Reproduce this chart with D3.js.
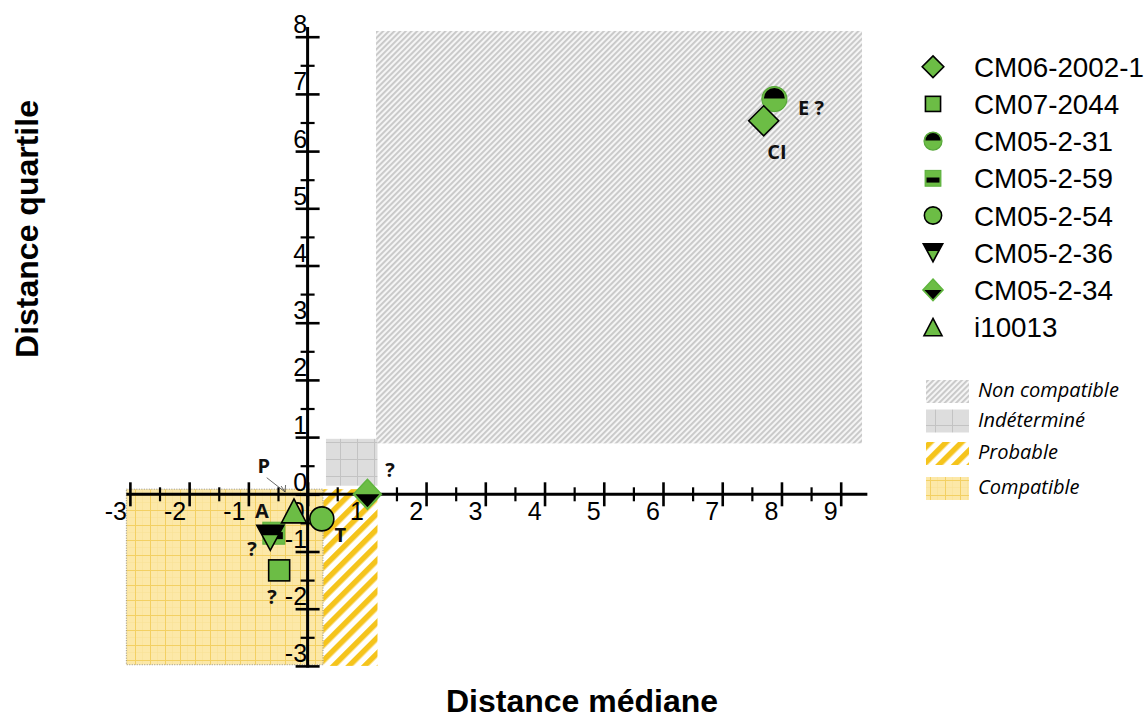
<!DOCTYPE html>
<html><head><meta charset="utf-8">
<script src="https://cdn.jsdelivr.net/npm/d3@7"></script>
<style>
html,body{margin:0;padding:0;background:#fff;}
svg{display:block;}
</style></head>
<body>
<svg id="chart" width="1147" height="718"></svg>
<script>
// ---------- data ----------
const seriesNames = ["CM06-2002-1","CM07-2044","CM05-2-31","CM05-2-59","CM05-2-54","CM05-2-36","CM05-2-34","i10013"];
const seriesX = [7.70, -0.48, 7.88, -0.57, 0.24, -0.63, 1.01, -0.23];
const seriesY = [6.53, -1.33, 6.91, -0.68, -0.43, -0.76, 0.00, -0.29];
const seriesShape = ["diamond","square","halfCircle","bandSquare","circle","triDown","halfDiamond","triUp"];
const drawOrder = [2,0,1,3,5,4,7,6];

const xMajorTicks = [-3,-2,-1,0,1,2,3,4,5,6,7,8,9];
const xMinorTicks = [-2.5,-1.5,-0.5,0.5,1.5,2.5,3.5,4.5,5.5,6.5,7.5,8.5];
const yMajorTicks = [-3,-2,-1,0,1,2,3,4,5,6,7,8];
const yMinorTicks = [-2.5,-1.5,-0.5,0.5,1.5,2.5,3.5,4.5,5.5,6.5,7.5];

const zoneNames = ["Non compatible","Indéterminé","Probable","Compatible"];
const zoneX0 = [1.155, 0.31, 0.265, -3.06];
const zoneX1 = [9.36, 1.18, 1.18, 0.26];
const zoneY0 = [0.89, 0.15, -3.0, -2.98];
const zoneY1 = [8.10, 0.97, 0.09, 0.09];
const zonePattern = ["pGrayHatch","pGrayGrid","pYellowHatch","pYellowGrid"];

const noteText = ["CI","E ?","?","T","A","?","?","P"];
const noteX = [7.925, 8.50, 1.39, 0.55, -0.77, -0.94, -0.60, -0.74];
const noteY = [6.00, 6.76, 0.43, -0.70, -0.29, -0.94, -1.79, 0.51];

// ---------- setup ----------
const svg = d3.select("#chart");
const x = d3.scaleLinear().domain([0, 9]).range([307.6, 840.7]);
const y = d3.scaleLinear().domain([0, 8]).range([494.3, 36.7]);
const GREEN = "#6cbd45";

const defs = svg.append("defs");
// gray hatch
const p1 = defs.append("pattern").attr("id","pGrayHatch").attr("patternUnits","userSpaceOnUse")
  .attr("width",4).attr("height",4).attr("patternTransform","rotate(45)");
p1.append("rect").attr("width",4).attr("height",4).attr("fill","#f5f5f5");
p1.append("rect").attr("width",1.9).attr("height",4).attr("fill","#c8c8c8");
// gray grid
const p2 = defs.append("pattern").attr("id","pGrayGrid").attr("patternUnits","userSpaceOnUse")
  .attr("width",17).attr("height",17);
p2.append("rect").attr("width",17).attr("height",17).attr("fill","#dddddd");
p2.append("path").attr("d","M0,0.5H17M0.5,0V17").attr("stroke","#c3c3c3").attr("stroke-width",1);
// yellow hatch
const p3 = defs.append("pattern").attr("id","pYellowHatch").attr("patternUnits","userSpaceOnUse")
  .attr("width",11).attr("height",11).attr("patternTransform","rotate(45)");
p3.append("rect").attr("width",11).attr("height",11).attr("fill","#ffffff");
p3.append("rect").attr("width",5.5).attr("height",11).attr("fill","#f5c41c");
// yellow grid
const p4 = defs.append("pattern").attr("id","pYellowGrid").attr("patternUnits","userSpaceOnUse")
  .attr("width",15).attr("height",15);
p4.append("rect").attr("width",15).attr("height",15).attr("fill","#fce8a8");
p4.append("path").attr("d","M0,7.5H15M7.5,0V15").attr("stroke","#f9e095").attr("stroke-width",0.6);
p4.append("path").attr("d","M0,0.5H15M0.5,0V15").attr("stroke","#f3d063").attr("stroke-width",1);

// ---------- zones ----------
const zoneG = svg.append("g");
zoneNames.forEach((n,i)=>{
  zoneG.append("rect")
    .attr("x", x(zoneX0[i])).attr("y", y(zoneY1[i]))
    .attr("width", x(zoneX1[i]) - x(zoneX0[i]))
    .attr("height", y(zoneY0[i]) - y(zoneY1[i]))
    .attr("fill", `url(#${zonePattern[i]})`)
    .attr("stroke", i===3 ? "#777" : "none")
    .attr("stroke-width", i===3 ? 0.8 : 0)
    .attr("stroke-dasharray", i===3 ? "1,1.5" : null);
});

// ---------- axes ----------
const axG = svg.append("g");
axG.append("line").attr("x1", x(-3.06)).attr("x2", x(9.45)).attr("y1", y(0)).attr("y2", y(0))
  .attr("stroke","#000").attr("stroke-width",3);
axG.append("line").attr("x1", x(0)).attr("x2", x(0)).attr("y1", y(-3.03)).attr("y2", y(8.17))
  .attr("stroke","#000").attr("stroke-width",3);

const fontTick = "'Liberation Sans', Arial, sans-serif";
const xMaj = axG.append("g").attr("transform",`translate(0,${y(0)})`)
  .call(d3.axisBottom(x).tickValues(xMajorTicks).tickFormat(d3.format("d")).tickSize(12));
xMaj.select(".domain").remove();
xMaj.selectAll(".tick line").attr("y1",-12).attr("y2",12).attr("stroke","#000").attr("stroke-width",2.6);
xMaj.selectAll(".tick text").attr("text-anchor","end").attr("x",-3.5).attr("y",26).attr("dy",null)
  .style("font-family",fontTick).style("font-size","25px").attr("fill","#000")
  .text(d => d < 0 ? "-" + Math.abs(d) : d);

const xMin = axG.append("g").attr("transform",`translate(0,${y(0)})`)
  .call(d3.axisBottom(x).tickValues(xMinorTicks).tickFormat("").tickSize(7));
xMin.select(".domain").remove();
xMin.selectAll(".tick line").attr("y1",-7).attr("y2",7).attr("stroke","#000").attr("stroke-width",2.2);

const yMaj = axG.append("g").attr("transform",`translate(${x(0)},0)`)
  .call(d3.axisLeft(y).tickValues(yMajorTicks).tickFormat(d3.format("d")).tickSize(12));
yMaj.select(".domain").remove();
yMaj.selectAll(".tick line").attr("x1",-12).attr("x2",12).attr("stroke","#000").attr("stroke-width",2.6);
yMaj.selectAll(".tick text").attr("text-anchor","end").attr("x",-0.5).attr("y",-4).attr("dy",null)
  .style("font-family",fontTick).style("font-size","25px").attr("fill","#000")
  .text(d => d < 0 ? "-" + Math.abs(d) : d);

const yMin = axG.append("g").attr("transform",`translate(${x(0)},0)`)
  .call(d3.axisLeft(y).tickValues(yMinorTicks).tickFormat("").tickSize(7));
yMin.select(".domain").remove();
yMin.selectAll(".tick line").attr("x1",-7).attr("x2",7).attr("stroke","#000").attr("stroke-width",2.2);

// ---------- markers ----------
function drawMarker(g, shape, s) {
  if (shape === "diamond") {
    const r = 15*s;
    g.append("path").attr("d",`M0,${-r}L${r},0L0,${r}L${-r},0Z`)
      .attr("fill",GREEN).attr("stroke","#000").attr("stroke-width",1.6);
  } else if (shape === "square") {
    const h = 10.5*s;
    g.append("rect").attr("x",-h).attr("y",-h).attr("width",2*h).attr("height",2*h)
      .attr("fill",GREEN).attr("stroke","#000").attr("stroke-width",1.6);
  } else if (shape === "halfCircle") {
    const r = 12.5*s;
    g.append("circle").attr("r",r).attr("fill",GREEN).attr("stroke","#58a83a").attr("stroke-width",1.2);
    const ri = r - 2*s;
    g.append("path").attr("d",`M${-ri},-0.5A${ri},${ri} 0 0 1 ${ri},-0.5Z`).attr("fill","#000");
  } else if (shape === "bandSquare") {
    const h = 11*s;
    g.append("rect").attr("x",-h).attr("y",-h).attr("width",2*h).attr("height",2*h)
      .attr("fill",GREEN).attr("stroke","#5aae3c").attr("stroke-width",1);
    g.append("rect").attr("x",-h+2*s).attr("y",-h+2*h*0.45).attr("width",2*h-4*s).attr("height",2*h*0.32).attr("fill","#000");
  } else if (shape === "circle") {
    const r = 12*s;
    g.append("circle").attr("r",r).attr("fill",GREEN).attr("stroke","#000").attr("stroke-width",1.6);
  } else if (shape === "triDown") {
    const w = 13.5*s, h = 12.5*s;
    const frac = 0.4;
    g.append("path").attr("d",`M${-w},${-h}L${w},${-h}L0,${h}Z`).attr("fill",GREEN);
    const yb = -h + 2*h*frac, xb = w*(1-frac);
    g.append("path").attr("d",`M${-w},${-h}L${w},${-h}L${xb},${yb}L${-xb},${yb}Z`).attr("fill","#000");
    g.append("path").attr("d",`M${-w},${-h}L${w},${-h}L0,${h}Z`).attr("fill","none")
      .attr("stroke","#000").attr("stroke-width",1.6).attr("stroke-linejoin","miter");
  } else if (shape === "halfDiamond") {
    const rx = 14*s, ry = 15*s;
    g.append("path").attr("d",`M0,${-ry}L${rx},0L0,${ry}L${-rx},0Z`).attr("fill",GREEN)
      .attr("stroke","#5fb53e").attr("stroke-width",1.5);
    g.append("path").attr("d",`M${-rx+2*s},0L${rx-2*s},0L0,${ry-2*s}Z`).attr("fill","#000");
  } else if (shape === "triUp") {
    const w = 12.5*s, h = 12*s;
    g.append("path").attr("d",`M0,${-h}L${w},${h}L${-w},${h}Z`)
      .attr("fill",GREEN).attr("stroke","#000").attr("stroke-width",1.6);
  }
}

const ptsG = svg.append("g");
drawOrder.forEach(i=>{
  const g = ptsG.append("g").attr("transform",`translate(${x(seriesX[i])},${y(seriesY[i])})`);
  drawMarker(g, seriesShape[i], 1);
});

// ---------- annotations ----------
const noteFont = "'Open Sans', 'DejaVu Sans', sans-serif";
const notesG = svg.append("g");
noteText.forEach((t,i)=>{
  notesG.append("text").attr("x", x(noteX[i])).attr("y", y(noteY[i]))
    .attr("text-anchor","middle").attr("dominant-baseline","central")
    .style("font-family",noteFont).style("font-weight","700").style("font-size","20px")
    .attr("fill","#111").text(t);
});
// leader for P
notesG.append("line").attr("x1", x(-0.69)).attr("y1", y(0.29)).attr("x2", x(-0.38)).attr("y2", y(0.04))
  .attr("stroke","#444").attr("stroke-width",0.8);
notesG.append("path")
  .attr("d",`M${x(-0.38)-4},${y(0.04)-6}L${x(-0.38)},${y(0.04)}L${x(-0.38)+0.5},${y(0.04)-7}`)
  .attr("fill","none").attr("stroke","#444").attr("stroke-width",0.8);

// ---------- axis titles ----------
svg.append("text").attr("x",582).attr("y",712).attr("text-anchor","middle")
  .style("font-family",fontTick).style("font-weight","700").style("font-size","32px")
  .text("Distance médiane");
svg.append("text").attr("transform","translate(38,229) rotate(-90)").attr("text-anchor","middle")
  .style("font-family",fontTick).style("font-weight","700").style("font-size","32px")
  .text("Distance quartile");

// ---------- legend: series ----------
const legG = svg.append("g");
seriesNames.forEach((n,i)=>{
  const cy = 66.7 + i*37.2;
  const g = legG.append("g").attr("transform",`translate(933,${cy})`);
  drawMarker(g, seriesShape[i], 0.72);
  legG.append("text").attr("transform",`translate(974,${cy+10}) scale(1.03,1)`)
    .style("font-family",fontTick).style("font-size","27px").attr("fill","#000").text(n);
});

// ---------- legend: zones ----------
const zoneLegY = [380, 409.5, 442, 477];
zoneNames.forEach((n,i)=>{
  legG.append("rect").attr("x",926).attr("y",zoneLegY[i]).attr("width",43).attr("height",23)
    .attr("fill",`url(#${zonePattern[i]})`);
  legG.append("text").attr("x",978).attr("y",zoneLegY[i]+17)
    .style("font-family",noteFont).style("font-style","italic").style("font-size","20px")
    .attr("fill","#000").text(n);
});
</script>
</body></html>
